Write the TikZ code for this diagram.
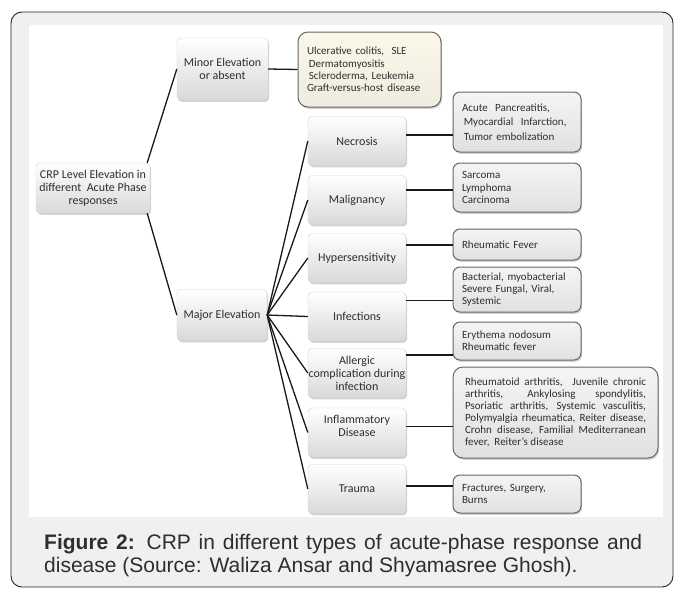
\documentclass[tikz,border=0pt]{standalone}
\usepackage{fontspec}
\setmainfont{Carlito}
\newfontfamily\capfont{Liberation Sans}
\usetikzlibrary{shadows}
\definecolor{framegray}{HTML}{EFF0F2}
\definecolor{cream}{HTML}{FBF8EA}
\definecolor{boxline}{HTML}{666666}
\definecolor{boxtext}{HTML}{2E2E2E}
\tikzset{
	catbox/.style={rounded corners=4pt, draw=gray!35, top color=white, bottom color=gray!30,
		drop shadow={opacity=0.35, shadow xshift=1.2pt, shadow yshift=-1.8pt},
		text=boxtext, align=center, inner xsep=0.5pt, inner ysep=2pt, font=\fontsize{12}{13}\selectfont},
	listbox/.style={rounded corners=7pt, draw=boxline, line width=1pt, top color=gray!8, bottom color=gray!24,
		drop shadow={opacity=0.35, shadow xshift=1.2pt, shadow yshift=-1.8pt},
		text=boxtext, align=left, text width=110pt, inner xsep=9pt, font=\fontsize{11}{12.3}\selectfont},
	link/.style={line width=1.3pt, black!90}
}

\begin{document}
\begin{tikzpicture}[x=1pt, y=-1pt]
			%%%%% START %%%%%
			\useasboundingbox (0,0) rectangle (675,590);
			
			\draw[black!85, fill=framegray, rounded corners=11pt, line width=0.9pt] (11,12) rectangle (673,587);
			\fill[white] (29,25) rectangle (663,517);
			
			\node[catbox, minimum width=114pt, minimum height=50pt] (root) at (93,188) {CRP Level Elevation in\\different\ \ Acute Phase\\responses};
			\node[catbox, minimum width=91pt, minimum height=62pt] (minor) at (222.5,69) {Minor Elevation\\or absent};
			\node[catbox, minimum width=90pt, minimum height=51pt] (major) at (222,315) {Major Elevation};
			
			\node[listbox, text width=125pt, minimum height=75pt, rounded corners=10pt, top color=cream, bottom color=cream!90!gray] (minor-l) at (369.5,69.5) {Ulcerative colitis,\ \ SLE\\\,Dermatomyositis\\\,Scleroderma, Leukemia\\Graft-versus-host disease};
			
			\node[catbox, minimum width=98pt, minimum height=49pt] (necrosis) at (357,141) {Necrosis};
			\node[catbox, minimum width=98pt, minimum height=49pt] (malig) at (357,200) {Malignancy};
			\node[catbox, minimum width=98pt, minimum height=49pt] (hyper) at (357,258) {Hypersensitivity};
			\node[catbox, minimum width=98pt, minimum height=49pt] (infect) at (357,316.5) {Infections};
			\node[catbox, minimum width=98pt, minimum height=49pt] (allergic) at (357,373) {Allergic\\complication during\\infection};
			\node[catbox, minimum width=98pt, minimum height=49pt] (inflam) at (357,432.5) {Inflammatory\\Disease\\\mbox{}};
			\node[catbox, minimum width=98pt, minimum height=49pt] (trauma) at (357,489) {Trauma};
			
			\node[listbox, minimum height=60pt, font=\fontsize{11}{14.5}\selectfont] (necrosis-l) at (517,122) {Acute\ \ Pancreatitis,\\\,Myocardial\ \ Infarction,\\\,Tumor embolization};
			\node[listbox, minimum height=49pt] (malig-l) at (517,187.5) {Sarcoma\\Lymphoma\\Carcinoma};
			\node[listbox, minimum height=31pt] (hyper-l) at (517,244.5) {Rheumatic Fever};
			\node[listbox, minimum height=45pt] (infect-l) at (517,289.5) {Bacterial, myobacterial\\Severe Fungal, Viral,\\Systemic};
			\node[listbox, minimum height=38pt] (allergic-l) at (517,341) {Erythema nodosum\\Rheumatic fever};
			\node[listbox, text width=181pt, inner xsep=12pt, minimum height=91pt, rounded corners=10pt, align=justify, font=\fontsize{11}{12}\selectfont] (inflam-l) at (555.5,412.5) {Rheumatoid arthritis,\ \ Juvenile chronic\linebreak arthritis, Ankylosing spondylitis,\linebreak Psoriatic arthritis, Systemic vasculitis,\linebreak Polymyalgia rheumatica, Reiter disease,\linebreak Crohn disease, Familial Mediterranean\linebreak fever,\ \ Reiter's disease};
			\node[listbox, minimum height=38pt] (trauma-l) at (517,494) {Fractures, Surgery,\\Burns};
			
			\draw[link] ([xshift=-3pt]root.north east) -- (minor.west);
			\draw[link] ([xshift=-3pt]root.south east) -- (major.west);
			\draw[link] (minor.east) -- (minor-l.west);
			
			\draw[link] (major.east) -- (necrosis.west);
			\draw[link] (major.east) -- (malig.west);
			\draw[link] (major.east) -- (hyper.west);
			\draw[link] (major.east) -- (infect.west);
			\draw[link] (major.east) -- (allergic.west);
			\draw[link] (major.east) -- (inflam.west);
			\draw[link] (major.east) -- (trauma.west);
			
			\coordinate (necrosis-c) at ([yshift=6pt]necrosis.east);
			\coordinate (malig-c) at ([yshift=10pt]malig.east);
			\coordinate (hyper-c) at ([yshift=13pt]hyper.east);
			\coordinate (infect-c) at ([yshift=16pt]infect.east);
			\coordinate (allergic-c) at ([yshift=18pt]allergic.east);
			\coordinate (inflam-c) at ([yshift=6pt]inflam.east);
			\coordinate (trauma-c) at ([yshift=3pt]trauma.east);
			\draw[link] (necrosis-c) -- (necrosis-c -| necrosis-l.west);
			\draw[link] (malig-c) -- (malig-c -| malig-l.west);
			\draw[link] (hyper-c) -- (hyper-c -| hyper-l.west);
			\draw[link] (infect-c) -- (infect-c -| infect-l.west);
			\draw[link] (allergic-c) -- (allergic-c -| allergic-l.west);
			\draw[link] (inflam-c) -- (inflam-c -| inflam-l.west);
			\draw[link] (trauma-c) -- (trauma-c -| trauma-l.west);
			
			\node[anchor=base west, inner sep=0pt, text=black!82, font=\capfont\fontsize{21}{23}\selectfont] (caption-a) at (44,549) {\makebox[598pt][s]{\textbf{Figure 2:} CRP in different types of acute-phase response and}};
			\node[anchor=base west, inner sep=0pt, text=black!82, font=\capfont\fontsize{21}{23}\selectfont] (caption-b) at (44,572) {disease (Source: Waliza Ansar and Shyamasree Ghosh).};
			
			%%%%% END %%%%%
\end{tikzpicture}
\end{document}
